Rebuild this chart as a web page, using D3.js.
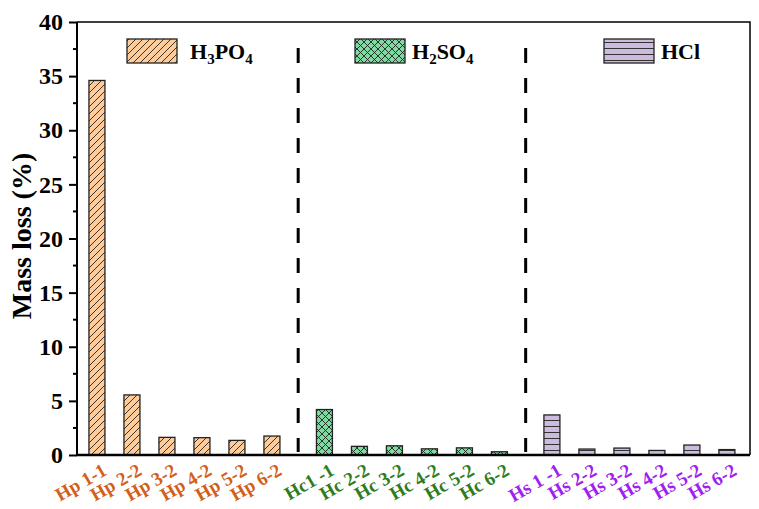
<!DOCTYPE html>
<html><head><meta charset="utf-8">
<script src="https://cdn.jsdelivr.net/npm/d3@7/dist/d3.min.js"></script>
<style>body{margin:0;background:#fff}svg{display:block}</style>
</head><body>
<script>
const groups = ["H3PO4", "H2SO4", "HCl"];
const hpLabels = ["Hp 1-1", "Hp 2-2", "Hp 3-2", "Hp 4-2", "Hp 5-2", "Hp 6-2"];
const hpValues = [34.6, 5.55, 1.63, 1.6, 1.35, 1.75];
const hcLabels = ["Hc1 -1", "Hc 2-2", "Hc 3-2", "Hc 4-2", "Hc 5-2", "Hc 6-2"];
const hcValues = [4.2, 0.8, 0.85, 0.57, 0.66, 0.3];
const hsLabels = ["Hs 1 -1", "Hs 2-2", "Hs 3-2", "Hs 4-2", "Hs 5-2", "Hs 6-2"];
const hsValues = [3.7, 0.55, 0.64, 0.42, 0.92, 0.5];
const yTicks = [0, 5, 10, 15, 20, 25, 30, 35, 40];

const W = 759, H = 509;
const m = {l: 77, r: 9, t: 22, b: 54};
const FONT = "'Liberation Serif','Times New Roman',serif";
const svg = d3.select("body").append("svg").attr("width", W).attr("height", H);

const styles = [
  {fill: "#FFCC99", pat: "diag", label: "#D2601A"},
  {fill: "#7FD9A0", pat: "cross", label: "#2E7D1A"},
  {fill: "#CCBBDD", pat: "horiz", label: "#A020F0"}
];
const defs = svg.append("defs");
let p = defs.append("pattern").attr("id", "diag").attr("patternUnits", "userSpaceOnUse").attr("width", 7).attr("height", 7);
p.append("rect").attr("width", 7).attr("height", 7).attr("fill", styles[0].fill);
p.append("path").attr("d", "M-1,8 L8,-1 M-2,2 L2,-2 M5,9 L9,5").attr("stroke", "#222").attr("stroke-width", 0.9);
p = defs.append("pattern").attr("id", "cross").attr("patternUnits", "userSpaceOnUse").attr("width", 7).attr("height", 7);
p.append("rect").attr("width", 7).attr("height", 7).attr("fill", styles[1].fill);
p.append("path").attr("d", "M0,0 L7,7 M7,0 L0,7").attr("stroke", "#222").attr("stroke-width", 0.9);
p = defs.append("pattern").attr("id", "horiz").attr("patternUnits", "userSpaceOnUse").attr("width", 8).attr("height", 6);
p.append("rect").attr("width", 8).attr("height", 6).attr("fill", styles[2].fill);
p.append("path").attr("d", "M0,0.5 L8,0.5").attr("stroke", "#333").attr("stroke-width", 1);

const data = [];
[[hpLabels, hpValues], [hcLabels, hcValues], [hsLabels, hsValues]].forEach(([labs, vals], g) => {
  labs.forEach((l, i) => data.push({g, label: l, value: vals[i], pos: g * 6.5 + i}));
});

const x = d3.scaleLinear().domain([-0.57, 18.66]).range([m.l, W - m.r]);
const y = d3.scaleLinear().domain([0, 40]).range([H - m.b, m.t]);
const bw = 16;

svg.selectAll("rect.bar").data(data).join("rect").attr("class", "bar")
  .attr("x", d => x(d.pos) - bw / 2).attr("width", bw)
  .attr("y", d => y(d.value)).attr("height", d => y(0) - y(d.value))
  .attr("fill", d => `url(#${styles[d.g].pat})`)
  .attr("stroke", "#222").attr("stroke-width", 1.3);

[5.75, 12.25].forEach(v => {
  svg.append("line").attr("x1", x(v)).attr("x2", x(v)).attr("y1", 48).attr("y2", 452)
    .attr("stroke", "#000").attr("stroke-width", 3).attr("stroke-dasharray", "15,15");
});

const yAxis = d3.axisLeft(y).tickValues(yTicks).tickSize(8).tickPadding(6);
const ga = svg.append("g").attr("transform", `translate(${m.l},0)`).call(yAxis);
ga.select(".domain").remove();
ga.selectAll(".tick line").attr("stroke-width", 2);
ga.selectAll(".tick text").style("font-size", "24px").style("fill", "#000")
  .style("font-family", FONT).style("font-weight", "bold");
const minor = d3.range(2.5, 40, 5);
svg.append("g").selectAll("line").data(minor).join("line")
  .attr("x1", m.l - 4).attr("x2", m.l).attr("y1", d => y(d)).attr("y2", d => y(d))
  .attr("stroke", "#000").attr("stroke-width", 2);

svg.append("path").attr("d", `M${m.l},${m.t} L${W - m.r},${m.t} L${W - m.r},${y(0)}`)
  .attr("fill", "none").attr("stroke", "#000").attr("stroke-width", 1.5);
svg.append("line").attr("x1", m.l).attr("x2", m.l).attr("y1", m.t).attr("y2", y(0)).attr("stroke", "#000").attr("stroke-width", 2);
svg.append("line").attr("x1", m.l).attr("x2", W - m.r).attr("y1", y(0)).attr("y2", y(0)).attr("stroke", "#000").attr("stroke-width", 2.5);

svg.selectAll("text.xl").data(data).join("text").attr("class", "xl")
  .attr("transform", d => `translate(${x(d.pos) + 11},${y(0) + 19}) rotate(-30)`)
  .attr("text-anchor", "end")
  .style("font-family", FONT).style("font-weight", "bold").style("font-size", "19px")
  .style("fill", d => styles[d.g].label).text(d => d.label);

svg.append("text").attr("transform", `translate(31,236) rotate(-90)`)
  .attr("text-anchor", "middle")
  .style("font-family", FONT).style("font-weight", "bold").style("font-size", "28px")
  .text("Mass loss (%)");

const legX = [127, 355, 604];
const legGap = [13, 7, 7];
const legParts = [
  [["H", 0], ["3", 1], ["PO", 0], ["4", 1]],
  [["H", 0], ["2", 1], ["SO", 0], ["4", 1]],
  [["HCl", 0]]
];
groups.forEach((g, i) => {
  svg.append("rect").attr("x", legX[i]).attr("y", 39).attr("width", 50).attr("height", 24)
    .attr("fill", `url(#${styles[i].pat})`).attr("stroke", "#222").attr("stroke-width", 1.3);
  const t = svg.append("text").attr("x", legX[i] + 50 + legGap[i]).attr("y", 59)
    .style("font-family", FONT).style("font-weight", "bold").style("font-size", "22px").style("fill", "#000");
  legParts[i].forEach(([s, sub], k) => {
    t.append("tspan").style("font-size", sub ? "15px" : "22px").attr("dy", sub ? 5 : (k > 0 ? -5 : 0)).text(s);
  });
});
</script>
</body></html>
